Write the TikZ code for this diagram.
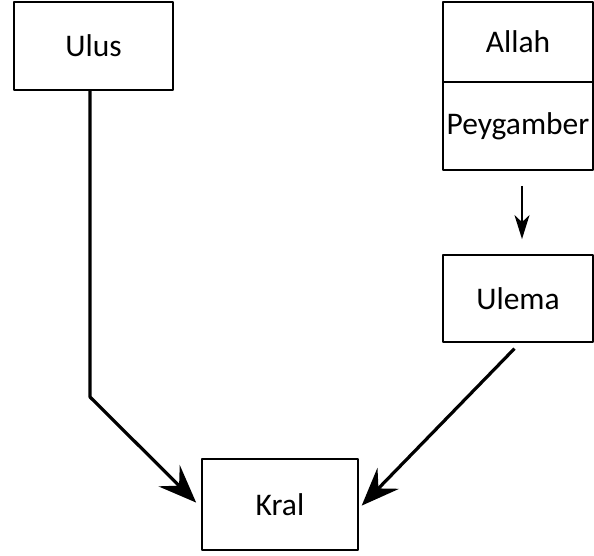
\documentclass[tikz,border=0pt]{standalone}
\usepackage{fontspec}
\setmainfont{Carlito}
\usetikzlibrary{arrows.meta}
\tikzset{
  kutu/.style={draw, line width=1.8pt, rectangle, inner sep=0pt},
  ok/.style={line width=3.2pt, -{Stealth[length=38pt,width=30pt,inset=14pt]}},
  kucukok/.style={line width=1.8pt, -{Stealth[length=24pt,width=15pt,inset=7pt]}}
}
\begin{document}
\begin{tikzpicture}[x=1pt,y=-1pt, font=\fontsize{31.5}{36}\selectfont, line join=round]
	\useasboundingbox (0,0) rectangle (594,556);
	% kutular
	\node[kutu, minimum width=159pt, minimum height=88pt] (ulus) at (93.5,46) {Ulus};
	\node[kutu, minimum width=150pt, minimum height=80pt] (allah) at (518,42) {Allah};
	\node[kutu, minimum width=150pt, minimum height=88pt] (peygamber) at (518,126) {Peygamber};
	\node[kutu, minimum width=150pt, minimum height=87pt] (ulema) at (518,298.5) {Ulema};
	\node[kutu, minimum width=156pt, minimum height=91pt] (kral) at (280,504.5) {Kral};
	\coordinate (kirik) at (90,397);
	% oklar
	\draw[kucukok, shorten <=15pt, shorten >=15pt] ([xshift=4pt]peygamber.south) -- ([xshift=4pt]ulema.north);
	\draw[ok, line cap=round, shorten >=7pt] ([xshift=-3.5pt]ulus.south) -- (kirik) -- ([yshift=-3pt]kral.west);
	\draw[ok, shorten <=8pt, shorten >=4pt] ([xshift=2pt]ulema.south) -- ([yshift=-4pt]kral.east);
\end{tikzpicture}
\end{document}
